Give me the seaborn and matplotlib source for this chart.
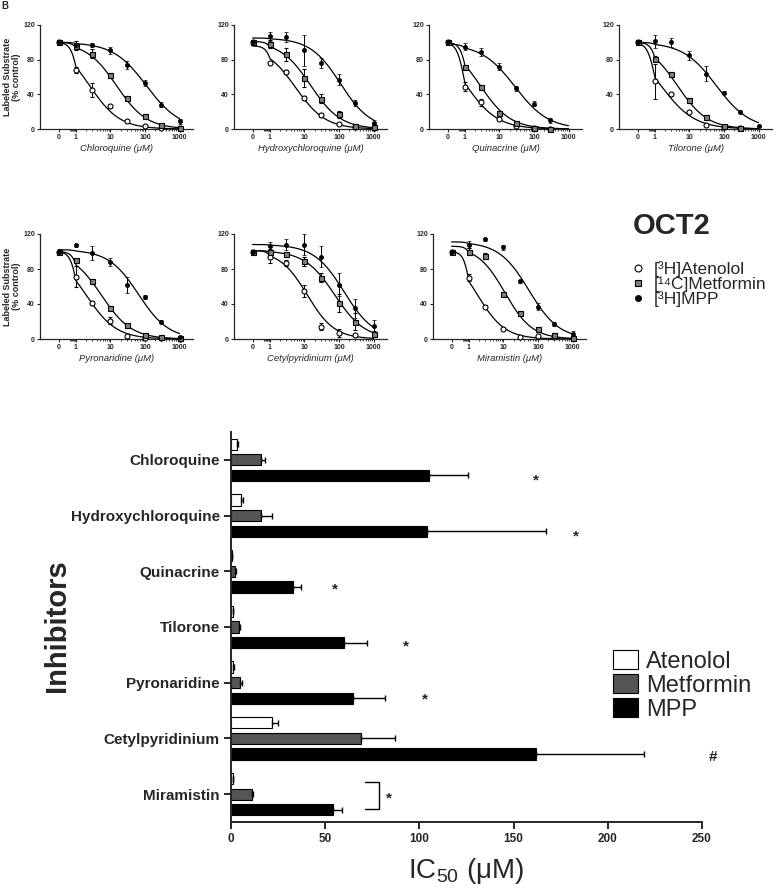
import numpy as np
import pandas as pd
import matplotlib
matplotlib.use("Agg")
import matplotlib.pyplot as plt
import matplotlib.patches as mpatches
from matplotlib.lines import Line2D
import seaborn as sns

# ---------------- data: concentration-response curves (% control) ----------------
nan = np.nan
conc = [0, 1, 3, 10, 30, 100, 300, 1000]
drugs = ['Chloroquine', 'Hydroxychloroquine', 'Quinacrine', 'Tilorone',
         'Pyronaridine', 'Cetylpyridinium', 'Miramistin']

# rows: [3H]Atenolol, [14C]Metformin, [3H]MPP
chloroquine_pts = [[100, 68, 45, 26, 9, 4, 1.5, 1],
                   [100, 96, 87, 62, 36, 15, 5, 1],
                   [100, 97, 97, 91, 74, 53, 28, 9]]
chloroquine_err = [[2, 3, 8, 2, 1, 1, 0, 1],
                   [2, 5, 5, 3, 2, 2, 1, 1],
                   [2, 2, 2, 4, 5, 3, 3, 3]]
hydroxy_pts = [[100, 76, 66, 36, 16, 6, 2, 1],
               [100, 98, 86, 59, 35, 17, 4, 2],
               [100, 107, 106, 91, 76, 57, 30, 7]]
hydroxy_err = [[2, 1, 2, 2, 2, 1, 1, 1],
               [2, 5, 8, 10, 5, 4, 2, 1],
               [2, 5, 6, 18, 6, 6, 3, 3]]
quinacrine_pts = [[100, 49, 31, 12, 3, 1, 0.5, nan],
                  [100, 71, 49, 19, 7, 1.5, 0.5, nan],
                  [100, 95, 89, 72, 47, 29, 10, nan]]
quinacrine_err = [[2, 5, 4, 1, 1, 1, 0, 0],
                  [2, 2, 2, 2, 2, 1, 0, 0],
                  [2, 4, 5, 4, 3, 3, 3, 0]]
tilorone_pts = [[100, 55, 40, 20, 5, 2, 1, nan],
                [100, 81, 64, 33, 14, 3, 1, nan],
                [100, 101, 100, 85, 64, 42, 20, 4]]
tilorone_err = [[2, 20, 2, 1, 1, 1, 0, 0],
                [2, 3, 2, 3, 2, 1, 0, 0],
                [2, 8, 5, 5, 9, 2, 2, 1]]
pyronaridine_pts = [[100, 71, 41, 21, 4, 1, 1, 0],
                    [100, 90, 66, 36, 16, 5, 2, 1],
                    [100, 107, 98, 88, 62, 48, 20, 2]]
pyronaridine_err = [[2, 12, 2, 4, 1, 0, 0, 0],
                    [2, 2, 2, 2, 1, 1, 1, 0],
                    [2, 2, 8, 5, 9, 2, 2, 1]]
cetyl_pts = [[100, 94, 87, 55, 14, 7, 5, nan],
             [100, 100, 97, 89, 70, 41, 20, 6],
             [100, 106, 108, 108, 94, 62, 35, 15]]
cetyl_err = [[2, 7, 3, 7, 4, 5, 1, 0],
             [2, 3, 3, 5, 5, 10, 10, 3],
             [2, 5, 6, 12, 12, 13, 11, 7]]
miramistin_pts = [[100, 70, 37, 11, 2, 3, 2, 1],
                  [100, 100, 95, 52, 30, 12, 5, 1],
                  [100, 108, 114, 105, 66, 37, 17, 6]]
miramistin_err = [[2, 4, 2, 1, 0, 1, 1, 0],
                  [2, 4, 3, 2, 2, 2, 2, 0],
                  [2, 4, 2, 3, 2, 4, 2, 3]]

# fitted curves: (top, IC50, hill) for atenolol / metformin / MPP
fit_top = [[100, 100, 100], [96, 101, 105], [100, 100, 98], [100, 100, 100],
           [100, 100, 102], [101, 101, 108], [100, 106, 111]]
fit_ic50 = [[2.5, 15, 110], [5.5, 15, 110], [1.1, 2.8, 28], [1.5, 4.5, 60],
            [2.0, 5.5, 65], [12, 75, 140], [1.8, 11, 55]]
fit_hill = [[1.0, 1.0, 0.9], [1.0, 1.0, 1.0], [0.95, 1.0, 0.9], [0.9, 1.0, 0.9],
            [1.0, 1.0, 1.0], [1.1, 1.0, 1.0], [1.1, 1.1, 1.0]]

# ---------------- data: IC50 bar chart (uM) ----------------
substrates = ['Atenolol', 'Metformin', 'MPP']
ic50_atenolol = [3, 5.5, 0.6, 1.0, 1.2, 21.5, 1.0]
err_atenolol = [0.5, 1.0, 0.1, 0.3, 0.3, 3.3, 0.2]
ic50_metformin = [16, 16, 2.2, 4, 5, 69, 11]
err_metformin = [2, 6, 0.3, 0.6, 0.8, 18, 0.8]
ic50_mpp = [105, 104, 33, 60, 65, 162, 54]
err_mpp = [21, 63, 4, 12, 17, 57, 5]
sig_labels = ['*', '*', '*', '*', '*', '#', '*']
sig_x = [162, 183, 55, 93, 103, 256, 84]
sig_dy = [0.29, 0.30, 0.25, 0.27, 0.22, 0.26, 0.0]

# ---------------- style ----------------
sns.set_theme(style='ticks')
plt.rcParams['font.family'] = ['Liberation Sans', 'DejaVu Sans']
plt.rcParams['mathtext.fontset'] = 'custom'
plt.rcParams['mathtext.rm'] = 'Liberation Sans'
plt.rcParams['mathtext.it'] = 'Liberation Sans:italic'
plt.rcParams['mathtext.bf'] = 'Liberation Sans:bold'

W, H = 776, 889
fig = plt.figure(figsize=(W / 100, H / 100), dpi=100)


def rect(left, top, w, h):
    return [left / W, 1 - (top + h) / H, w / W, h / H]


# x axis: log above 1 uM, compressed segment for the "0" point
ZERO = 0.01


def fwd(c):
    l = np.log10(np.clip(np.asarray(c, float), 1e-9, None))
    return np.where(l >= 0, l, -0.5 + 0.25 * (l + 2))


def inv(p):
    p = np.asarray(p, float)
    return np.where(p >= 0, 10.0 ** np.minimum(p, 20), 10.0 ** ((np.minimum(p, 5) + 0.5) * 4 - 2))


panel_pts = [chloroquine_pts, hydroxy_pts, quinacrine_pts, tilorone_pts,
             pyronaridine_pts, cetyl_pts, miramistin_pts]
panel_err = [chloroquine_err, hydroxy_err, quinacrine_err, tilorone_err,
             pyronaridine_err, cetyl_err, miramistin_err]
panel_rects = [rect(40, 25, 153, 104), rect(234, 25, 153, 104),
               rect(429, 25, 153, 104), rect(619, 25, 153, 104),
               rect(40, 234, 153, 105), rect(234, 234, 153, 105),
               rect(433, 234, 153, 105)]
markers = [dict(marker='o', ms=3.6, mfc='white', mec='black', mew=0.8),
           dict(marker='s', ms=3.6, mfc='#808080', mec='black', mew=0.8),
           dict(marker='o', ms=3.0, mfc='black', mec='black', mew=0.5)]

xplot = [ZERO if c == 0 else c for c in conc]
xs = np.logspace(np.log10(ZERO), 3, 300)
minor = [k * 10.0 ** d for d in (-1, 0, 1, 2) for k in range(2, 10)]

for i, drug in enumerate(drugs):
    ax = fig.add_axes(panel_rects[i])
    ax.set_xscale('function', functions=(fwd, inv))
    for k in range(3):
        top, ic, h = fit_top[i][k], fit_ic50[i][k], fit_hill[i][k]
        ys = top / (1 + (xs / ic) ** h)
        sns.lineplot(x=xs, y=ys, color='black', linewidth=0.9, estimator=None,
                     sort=False, ax=ax)
    for k in range(3):
        ax.errorbar(xplot, panel_pts[i][k], yerr=panel_err[i][k], linestyle='none',
                    ecolor='black', elinewidth=0.7, capsize=1.5, capthick=0.7,
                    zorder=3, clip_on=False, **markers[k])
    ax.set_xlim(float(inv(-1.04)), float(inv(3.39)))
    ax.set_ylim(0, 120)
    ax.set_yticks([0, 40, 80, 120])
    ax.set_xticks([ZERO, 1, 10, 100, 1000])
    ax.set_xticklabels(['0', '1', '10', '100', '1000'])
    ax.set_xticks(minor, minor=True)
    ax.tick_params(axis='both', which='major', labelsize=5, length=2.2, width=0.8, pad=1.5)
    ax.tick_params(axis='x', which='minor', length=1.2, width=0.6)
    for lab in ax.get_xticklabels() + ax.get_yticklabels():
        lab.set_fontweight('bold')
    for s in ('left', 'bottom'):
        ax.spines[s].set_linewidth(0.9)
    sns.despine(ax=ax)
    ax.set_xlabel(drug + ' (μM)', fontsize=6.8, fontstyle='italic', labelpad=2)
    if i in (0, 4):
        ax.set_ylabel('Labeled Substrate\n(% control)', fontsize=6.5,
                      fontweight='bold', labelpad=1.5, linespacing=1.05)

# legend for the curve panels
fig.text(633 / W, 1 - 226 / H, 'OCT2', fontsize=21, fontweight='bold',
         ha='left', va='center')
curve_handles = [Line2D([], [], linestyle='none', **m) for m in markers]
curve_handles[0].set_markersize(5)
curve_handles[1].set_markersize(5)
curve_handles[2].set_markersize(4.5)
fig.legend(curve_handles, ['[³H]Atenolol', '[¹⁴C]Metformin', '[³H]MPP'],
           loc='upper left', bbox_to_anchor=(631 / W, 1 - 261 / H), frameon=False,
           fontsize=12.5, handlelength=0.8, handletextpad=0.5, labelspacing=-0.04,
           borderpad=0, borderaxespad=0)

fig.text(1 / W, 1 - 1 / H, 'B', fontsize=7, fontweight='bold', ha='left', va='top')

# ---------------- IC50 bar chart ----------------
df = pd.DataFrame({
    'inhibitor': drugs * 3,
    'substrate': np.repeat(substrates, len(drugs)),
    'ic50': ic50_atenolol + ic50_metformin + ic50_mpp,
})
errs = [err_atenolol, err_metformin, err_mpp]
bar_colors = ['white', '#555555', 'black']

axb = fig.add_axes(rect(231, 432, 471, 390))
sns.barplot(data=df, y='inhibitor', x='ic50', hue='substrate', orient='h',
            palette=bar_colors, edgecolor='black', linewidth=0.8, width=0.84, gap=0.28,
            errorbar=None, legend=False, ax=axb)

bar_containers = list(axb.containers)
for k, cont in enumerate(bar_containers):
    for j, bar in enumerate(cont):
        yc = bar.get_y() + bar.get_height() / 2
        axb.errorbar(bar.get_width(), yc, xerr=[[0], [errs[k][j]]], fmt='none',
                     ecolor='black', elinewidth=1.0, capsize=2.5, capthick=1.0, zorder=1)

for j in range(len(drugs)):
    axb.text(sig_x[j], j + sig_dy[j] + 0.08, sig_labels[j], fontsize=11,
             fontweight='bold', ha='center', va='center', clip_on=False)

# bracket between metformin and MPP for Miramistin
axb.plot([71, 78.5, 78.5, 71], [5.79, 5.79, 6.27, 6.27], color='black', linewidth=1.0)

axb.set_xlim(0, 250)
axb.set_ylim(6.5, -0.5)
axb.set_xticks([0, 50, 100, 150, 200, 250])
axb.tick_params(axis='x', labelsize=8.5, length=5, width=1.4, pad=3)
axb.tick_params(axis='y', labelsize=11, length=5, width=1.4, pad=3)
for lab in axb.get_xticklabels() + axb.get_yticklabels():
    lab.set_fontweight('bold')
for s in ('left', 'bottom'):
    axb.spines[s].set_linewidth(1.4)
sns.despine(ax=axb)
axb.set_ylabel('')
axb.set_xlabel(r'IC$_{50}$ (μM)', fontsize=20, labelpad=8)

fig.text(57 / W, 1 - 626 / H, 'Inhibitors', fontsize=21, fontweight='bold',
         rotation=90, ha='center', va='center')

bar_handles = [mpatches.Patch(facecolor=c, edgecolor='black', linewidth=0.8) for c in bar_colors]
axb.legend(bar_handles, substrates, loc='upper left', bbox_to_anchor=(0.811, 0.44),
           fontsize=17, handlelength=1.05, handleheight=0.85, handletextpad=0.35,
           labelspacing=0.05, frameon=False, borderpad=0, borderaxespad=0)

fig.savefig('out.png', dpi=100)
